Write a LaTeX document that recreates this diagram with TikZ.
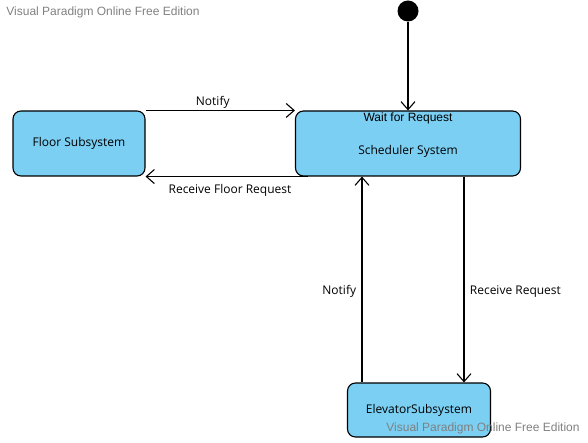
\documentclass[tikz,border=0pt]{standalone}
\usepackage{fontspec}
\setmainfont{Open Sans}
\newfontfamily\wmfont{Liberation Sans}
\usetikzlibrary{arrows.meta}
\definecolor{statefill}{HTML}{7ACFF3}

\begin{document}
\begin{tikzpicture}[x=1pt,y=-1pt,
  state/.style={draw,rounded corners=8pt,fill=statefill,line width=1.1pt,
    inner sep=0pt,font=\fontsize{12}{14}\selectfont},
  trans/.style={-{Straight Barb[length=8pt,width=14pt]},line width=1.1pt},
  lbl/.style={font=\fontsize{12}{14}\selectfont},
  wmark/.style={font=\wmfont\fontsize{12}{14}\selectfont,text=black!50}]
\useasboundingbox (0,0) rectangle (588,443);
\node[wmark] (wmtop) at (103,12) {Visual Paradigm Online Free Edition};
\node[circle,fill=black,minimum size=21pt,inner sep=0pt] (init) at (408,11) {};
\node[state,minimum width=132pt,minimum height=65pt] (floor) at (79,143.5)
  {Floor Subsystem};
\node[state,minimum width=225pt,minimum height=65pt] (sched) at (408,143.5) {};
\node[font=\wmfont\fontsize{12}{14}\selectfont] (wait) at (408,118.5) {Wait for Request};
\node[lbl] (schedtxt) at (408,151) {Scheduler System};
\node[state,minimum width=143pt,minimum height=54pt] (elev) at (419,410)
  {ElevatorSubsystem};
\draw[trans] (init) -- (sched.north);
\draw[trans] (floor.north east) -- (sched.north west)
  node[lbl,pos=0.45,above,yshift=-2pt] {Notify};
\draw[trans] ([xshift=13pt]sched.south west) -- (floor.south east)
  node[lbl,pos=0.48,below,yshift=-4pt] {Receive Floor Request};
\draw[trans] ([xshift=-57pt]elev.north) -- ([xshift=-57pt]elev.north |- sched.south)
  node[lbl,pos=0.46,left,xshift=-2pt,yshift=-4pt] {Notify};
\draw[trans] ([xshift=45pt]elev.north |- sched.south) -- ([xshift=45pt]elev.north)
  node[lbl,pos=0.54,right,xshift=2pt,yshift=-4pt] {Receive Request};
\node[wmark] (wmbot) at (483,428) {Visual Paradigm Online Free Edition};
\end{tikzpicture}
\end{document}
